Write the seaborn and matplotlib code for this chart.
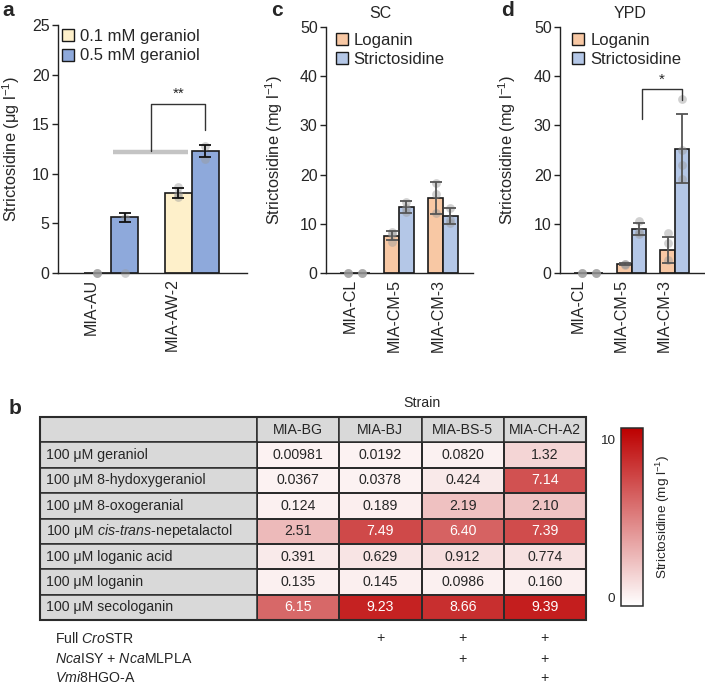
import numpy as np
import pandas as pd
import matplotlib
matplotlib.use("Agg")
import matplotlib.pyplot as plt
import seaborn as sns
from matplotlib.patches import Patch, Rectangle
from matplotlib.colors import LinearSegmentedColormap
from matplotlib.container import BarContainer

# ---------------- data ----------------
# Panel a
a_strains = ["MIA-AU", "MIA-AW-2"]
a_series = ["0.1 mM geraniol", "0.5 mM geraniol"]
a_mean_01 = [0.0, 8.1]
a_mean_05 = [5.6, 12.3]
a_sd_01 = [0.0, 0.5]
a_sd_05 = [0.45, 0.6]
a_pts_01 = [[0.0, 0.0, 0.0], [8.7, 7.7, 8.0]]
a_pts_05 = [[5.5, 0.0], [12.8, 11.5]]

# Panels c (SC) and d (YPD)
cd_strains = ["MIA-CL", "MIA-CM-5", "MIA-CM-3"]
cd_series = ["Loganin", "Strictosidine"]
c_log_mean = [0.0, 7.6, 15.2]
c_log_sd = [0.0, 0.95, 3.3]
c_str_mean = [0.0, 13.4, 11.6]
c_str_sd = [0.0, 1.3, 1.7]
c_log_pts = [[0.0, 0.0, 0.0], [8.4, 6.4, 7.9], [18.3, 16.1, 12.1]]
c_str_pts = [[0.0, 0.0, 0.0], [14.4, 12.4, 13.3], [13.2, 10.8, 10.2]]

d_log_mean = [0.0, 1.8, 4.7]
d_log_sd = [0.0, 0.25, 2.7]
d_str_mean = [0.0, 8.9, 25.3]
d_str_sd = [0.0, 1.2, 7.1]
d_log_pts = [[0.0, 0.0, 0.0], [1.9, 1.6, 1.8], [8.2, 6.0, 2.6]]
d_str_pts = [[0.0, 0.0, 0.0], [10.6, 8.4, 8.0], [35.3, 25.0, 22.0, 19.2]]

# Panel b (table heatmap)
b_strains = ["MIA-BG", "MIA-BJ", "MIA-BS-5", "MIA-CH-A2"]
b_feeds = ["100 μM geraniol", "100 μM 8-hydoxygeraniol", "100 μM 8-oxogeranial",
           r"100 μM $\it{cis}$-$\it{trans}$-nepetalactol", "100 μM loganic acid",
           "100 μM loganin", "100 μM secologanin"]
b_col_bg = [0.00981, 0.0367, 0.124, 2.51, 0.391, 0.135, 6.15]
b_col_bj = [0.0192, 0.0378, 0.189, 7.49, 0.629, 0.145, 9.23]
b_col_bs5 = [0.0820, 0.424, 2.19, 6.40, 0.912, 0.0986, 8.66]
b_col_cha2 = [1.32, 7.14, 2.10, 7.39, 0.774, 0.160, 9.39]
b_genes = ["Full $\\it{Cro}$STR", "$\\it{Nca}$ISY + $\\it{Nca}$MLPLA", "$\\it{Vmi}$8HGO-A"]
b_gene_plus = [[0, 1, 1, 1], [0, 0, 1, 1], [0, 0, 0, 1]]

# ---------------- style ----------------
sns.set_style("ticks")
plt.rcParams["font.family"] = ["Liberation Sans", "DejaVu Sans"]
plt.rcParams["mathtext.fontset"] = "custom"
plt.rcParams["mathtext.rm"] = "Liberation Sans"
plt.rcParams["mathtext.it"] = "Liberation Sans:italic"
plt.rcParams["mathtext.bf"] = "Liberation Sans:bold"
plt.rcParams["axes.edgecolor"] = "#222222"
plt.rcParams["axes.linewidth"] = 1.0

W, H = 705, 686
TFS = 10.2
fig = plt.figure(figsize=(W / 100, H / 100), dpi=100)


def fax(l, t, r, b):
    return fig.add_axes([l / W, 1 - b / H, (r - l) / W, (b - t) / H])


def bar_panel(ax, strains, series, means, sds, pts, palette, ecolor, capsize,
              off, ylim, yticks, ylabel, ylab_x, xlim):
    rows = []
    for s, m in zip(series, means):
        for st, v in zip(strains, m):
            rows.append({"strain": st, "series": s, "value": v})
    df = pd.DataFrame(rows)
    sns.barplot(data=df, x="strain", y="value", hue="series", order=strains,
                hue_order=series, palette=palette, width=0.67, saturation=1,
                edgecolor="#1a1a1a", linewidth=1.2, errorbar=None, legend=False,
                ax=ax, zorder=2)
    conts = [c for c in list(ax.containers) if isinstance(c, BarContainer)]
    for i, cont in enumerate(conts):
        for j, bar in enumerate(list(cont)):
            x = bar.get_x() + bar.get_width() / 2
            p = pts[i][j]
            ax.scatter([x] * len(p), p, s=40, color="#9a9a9a", alpha=0.45,
                       linewidths=0, zorder=3, clip_on=False)
            if sds[i][j] > 0:
                ax.errorbar(x, means[i][j], yerr=sds[i][j], fmt="none",
                            ecolor=ecolor, elinewidth=1.3, capsize=capsize,
                            capthick=1.3, zorder=4)
    ax.set_xlim(*xlim)
    ax.set_ylim(*ylim)
    ax.set_yticks(yticks)
    ax.set_xticks(np.arange(len(strains)) - off)
    ax.set_xticklabels(strains, rotation=90, ha="center", va="top", fontsize=11.5)
    ax.tick_params(axis="x", length=0, pad=4)
    ax.tick_params(axis="y", length=4, width=1, labelsize=11.5, pad=2, color="#222222")
    ax.set_xlabel("")
    ax.set_ylabel(ylabel, fontsize=11.8)
    ax.yaxis.set_label_coords(ylab_x, 0.5)
    sns.despine(ax=ax)
    handles = [Patch(facecolor=c, edgecolor="#1a1a1a", linewidth=1.0) for c in palette]
    return handles


# ---------------- panel a ----------------
ax_a = fax(58, 25, 247, 273)
pal_a = ["#FEF0CA", "#8EA9DB"]
h = bar_panel(ax_a, a_strains, a_series, [a_mean_01, a_mean_05], [a_sd_01, a_sd_05],
              [a_pts_01, a_pts_05], pal_a, "#111111", 4, 0.24, (0, 25),
              [0, 5, 10, 15, 20, 25], "Strictosidine (μg l$^{-1}$)", -0.188,
              (-0.654, 1.68))
ax_a.legend(h, a_series, loc="upper left", bbox_to_anchor=(0.02, 0.985), frameon=False,
            fontsize=12, handlelength=0.72, handleheight=0.72, handletextpad=0.35,
            labelspacing=0.28, borderaxespad=0, borderpad=0)
ax_a.plot([0.02, 0.95], [12.2, 12.2], color="#c4c4c4", lw=3.2, solid_capstyle="butt",
          zorder=1)
ax_a.plot([0.49, 0.49, 1.167, 1.167], [12.3, 17.0, 17.0, 14.4], color="#333333", lw=1.0,
          zorder=5)
ax_a.text(0.83, 17.4, "**", ha="center", va="bottom", fontsize=11)

# ---------------- panel c ----------------
pal_cd = ["#F8C8A4", "#B4C7E7"]
ax_c = fax(326, 27, 473, 273)
h = bar_panel(ax_c, cd_strains, cd_series, [c_log_mean, c_str_mean], [c_log_sd, c_str_sd],
              [c_log_pts, c_str_pts], pal_cd, "#555555", 4, 0.1, (0, 50),
              [0, 10, 20, 30, 40, 50], "Strictosidine (mg l$^{-1}$)", -0.279,
              (-0.66, 2.68))
ax_c.legend(h, cd_series, loc="upper left", bbox_to_anchor=(0.065, 0.975), frameon=False,
            fontsize=12, handlelength=0.72, handleheight=0.72, handletextpad=0.35,
            labelspacing=0.22, borderaxespad=0, borderpad=0)

# ---------------- panel d ----------------
ax_d = fax(560, 27, 705, 273)
h = bar_panel(ax_d, cd_strains, cd_series, [d_log_mean, d_str_mean], [d_log_sd, d_str_sd],
              [d_log_pts, d_str_pts], pal_cd, "#555555", 4, 0.24, (0, 50),
              [0, 10, 20, 30, 40, 50], "Strictosidine (mg l$^{-1}$)", -0.29,
              (-0.67, 2.7))
ax_d.legend(h, cd_series, loc="upper left", bbox_to_anchor=(0.085, 0.975), frameon=False,
            fontsize=12, handlelength=0.72, handleheight=0.72, handletextpad=0.35,
            labelspacing=0.22, borderaxespad=0, borderpad=0)
ax_d.plot([1.23, 1.23, 2.165, 2.165], [31.4, 37.3, 37.3, 35.2], color="#333333", lw=1.0,
          zorder=5)
ax_d.text(1.70, 37.8, "*", ha="center", va="bottom", fontsize=11)

# titles and panel letters
fig.text(380 / W, 1 - 14 / H, "SC", ha="center", va="center", fontsize=11.5)
fig.text(630 / W, 1 - 14 / H, "YPD", ha="center", va="center", fontsize=11.5)
for letter, x, y in [("a", 2, 10), ("c", 271, 10), ("d", 501, 10), ("b", 9, 408)]:
    fig.text(x / W, 1 - y / H, letter, ha="left", va="center", fontsize=15,
             fontweight="bold")

# ---------------- panel b ----------------
ax_b = fax(257, 442.4, 586, 620)
cax = fax(621, 428, 643, 606)
mat = pd.DataFrame(np.column_stack([b_col_bg, b_col_bj, b_col_bs5, b_col_cha2]),
                   index=b_feeds, columns=b_strains)
labels = mat.map(lambda v: f"{v:#.3g}").values
cmap = LinearSegmentedColormap.from_list("wr", ["#ffffff", "#bc0000"])
sns.heatmap(mat, ax=ax_b, cbar_ax=cax, cmap=cmap, vmin=-0.57, vmax=10.76,
            annot=labels, fmt="", annot_kws={"fontsize": TFS},
            linewidths=1.1, linecolor="#2b2b2b", xticklabels=False, yticklabels=False,
            cbar_kws={"ticks": [0, 10]})
ax_b.set_xlabel("")
ax_b.set_ylabel("")
ax_b.tick_params(length=0)

xl = -(257 - 40) / 82.25
gray = "#D9D9D9"
nrow = len(b_feeds)
ncol = len(b_strains)
# header row
ax_b.add_patch(Rectangle((xl, -1), -xl, 1, facecolor=gray, edgecolor="#2b2b2b", lw=1.1,
                         clip_on=False))
for j, s in enumerate(b_strains):
    ax_b.add_patch(Rectangle((j, -1), 1, 1, facecolor=gray, edgecolor="#2b2b2b", lw=1.1,
                             clip_on=False))
    ax_b.text(j + 0.5, -0.5, s, ha="center", va="center", fontsize=TFS, clip_on=False)
# label column
for i, lab in enumerate(b_feeds):
    ax_b.add_patch(Rectangle((xl, i), -xl, 1, facecolor=gray, edgecolor="#2b2b2b", lw=1.1,
                             clip_on=False))
    ax_b.text(xl + 0.075, i + 0.5, lab, ha="left", va="center", fontsize=TFS,
              clip_on=False)
ax_b.add_patch(Rectangle((xl, -1), ncol - xl, nrow + 1, fill=False, edgecolor="#2b2b2b",
                         lw=1.5, clip_on=False, zorder=6))
ax_b.text(2.0, -1.55, "Strain", ha="center", va="center", fontsize=TFS, clip_on=False)
# gene rows
gene_y = [7.71, 8.55, 9.28]
for k, g in enumerate(b_genes):
    ax_b.text(-2.456, gene_y[k], g, ha="left", va="center", fontsize=TFS, clip_on=False)
    for j in range(ncol):
        if b_gene_plus[k][j]:
            ax_b.text(j + 0.5, gene_y[k], "+", ha="center", va="center", fontsize=TFS,
                      clip_on=False)

cbar = ax_b.collections[0].colorbar
cbar.outline.set_edgecolor("#2b2b2b")
cbar.outline.set_linewidth(1.1)
cax.yaxis.set_ticks_position("left")
cax.yaxis.set_label_position("right")
cax.tick_params(length=0, labelsize=9.7, pad=4)
cax.set_ylabel("Strictosidine (mg l$^{-1}$)", fontsize=9.7, labelpad=8)

fig.savefig("out.png", dpi=100)
